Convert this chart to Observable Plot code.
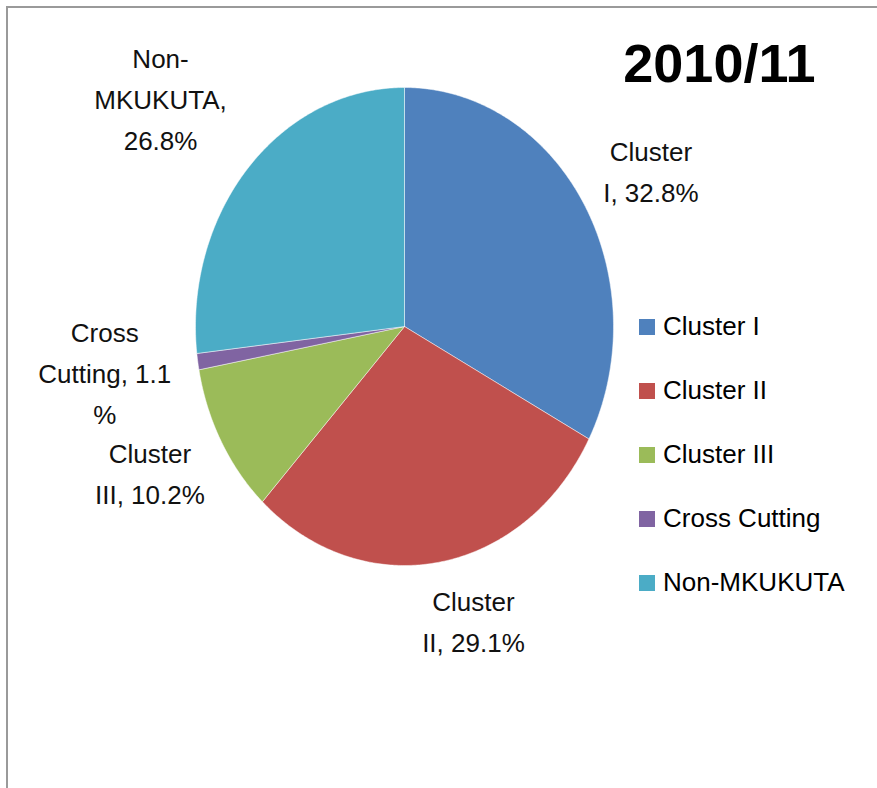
<!DOCTYPE html>
<html>
<head>
<meta charset="utf-8">
<script src="https://cdn.jsdelivr.net/npm/d3@7"></script>
<script src="https://cdn.jsdelivr.net/npm/@observablehq/plot@0.6"></script>
<style>
  html, body { margin: 0; padding: 0; background: #fff; }
  #wrap { position: relative; width: 877px; height: 788px; overflow: hidden; background: #fff; }
  #frame { position: absolute; left: 6px; top: 6px; width: 900px; height: 800px;
           border-left: 2px solid #9a9a9a; border-top: 2px solid #9a9a9a; box-sizing: border-box; }
  #chart { position: absolute; left: 0; top: 0; }
  #legend { position: absolute; left: 639px; top: 295px; }
  .lg-swatches { font-family: "Liberation Sans", Arial, sans-serif; font-size: 26px; color: #000; }
  .lg-swatch { height: 63px; display: flex; align-items: center; margin: 0 !important; }
  .lg-swatch svg { margin-right: 8px !important; }
</style>
</head>
<body>
<div id="wrap">
  <div id="frame"></div>
  <div id="chart"></div>
  <div id="legend"></div>
</div>
<script>
// ---- data ----
const title = "2010/11";
const categories = ["Cluster I", "Cluster II", "Cluster III", "Cross Cutting", "Non-MKUKUTA"];
const values = [32.8, 29.1, 10.2, 1.1, 26.8];
const colors = ["#4F81BD", "#C0504D", "#9BBB59", "#8064A2", "#4BACC6"];
// how the data labels wrap in the picture (text only)
const labelLines = [
  v => `Cluster\nI, ${v}%`,
  v => `Cluster\nII, ${v}%`,
  v => `Cluster\nIII, ${v}%`,
  v => `Cross\nCutting, ${v}\n%`,
  v => `Non-\nMKUKUTA,\n${v}%`
];

// ---- layout (not data) ----
const labelRadius = [1.33, 1.24, 1.33, 1.45, 1.52];
const labelShiftX = [8, 26, -11, 0, -7];
const labelShiftY = [5, 0, -9, -8, 11];

// ---- build slices ----
const total = d3.sum(values);
let acc = 0;
const slices = categories.map((name, i) => {
  const a0 = acc / total * 2 * Math.PI;
  acc += values[i];
  const a1 = acc / total * 2 * Math.PI;
  return {name, value: values[i], a0, a1, mid: (a0 + a1) / 2, i};
});
const slicePts = [];
for (const s of slices) {
  slicePts.push({name: s.name, x: 0, y: 0});
  const n = Math.max(2, Math.ceil((s.a1 - s.a0) / 0.01));
  for (let k = 0; k <= n; k++) {
    const t = s.a0 + (s.a1 - s.a0) * k / n;
    slicePts.push({name: s.name, x: Math.sin(t), y: Math.cos(t)});
  }
  slicePts.push({name: s.name, x: 0, y: 0});
}
const labels = slices.map(s => ({
  text: labelLines[s.i](s.value.toFixed(1)),
  x: labelRadius[s.i] * Math.sin(s.mid),
  y: labelRadius[s.i] * Math.cos(s.mid),
  dx: labelShiftX[s.i],
  dy: labelShiftY[s.i]
}));

const chart = Plot.plot({
  width: 877,
  height: 788,
  margin: 0,
  x: {domain: [-1, 1], range: [195, 613], axis: null},
  y: {domain: [-1, 1], range: [565, 87], axis: null},
  color: {domain: categories, range: colors},
  style: {background: "transparent", fontFamily: "Liberation Sans, Arial, sans-serif"},
  marks: [
    Plot.line(slicePts, {x: "x", y: "y", z: "name", fill: "name", stroke: "white", strokeWidth: 0.8, strokeOpacity: 0.6, curve: "linear"}),
    ...labels.map(l => Plot.text([l], {x: "x", y: "y", text: "text", dx: l.dx, dy: l.dy, fontSize: 26, lineHeight: 1.58, fill: "#111", textAnchor: "middle", lineAnchor: "middle"})),
    Plot.text([title], {frameAnchor: "top-right", text: d => d, dx: -62, dy: 43, fontSize: 54, fontWeight: "bold", fill: "#000", textAnchor: "end", lineAnchor: "top"})
  ]
});
document.getElementById("chart").appendChild(chart);

const legend = Plot.legend({
  color: {domain: categories, range: colors},
  legend: "swatches",
  columns: 1,
  swatchSize: 16,
  className: "lg"
});
document.getElementById("legend").appendChild(legend);
</script>
</body>
</html>
